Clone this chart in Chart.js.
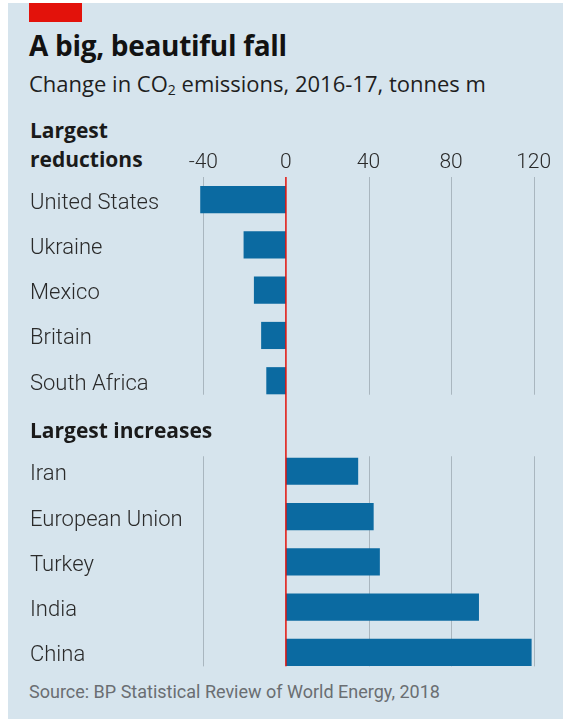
<!DOCTYPE html>
<html>
<head>
<meta charset="utf-8">
<script src="https://cdn.jsdelivr.net/npm/chart.js@4"></script>
<style>
  html, body { margin: 0; padding: 0; background: #fff; }
  body { width: 567px; height: 719px; position: relative; overflow: hidden; font-family: Roboto, sans-serif; }
  #panel { position: absolute; left: 8px; top: 3px; width: 555px; height: 716px; background: #d6e4ed; }
  #redtag { position: absolute; left: 29px; top: 3px; width: 53px; height: 19px; background: #e3120b; }
  .txt { position: absolute; left: 29px; white-space: nowrap; }
  #title { top: 26px; font-family: "Open Sans"; font-size: 28px; font-weight: 700; color: #121212; letter-spacing: -0.3px; }
  #subtitle { top: 68px; font-family: "Open Sans"; font-size: 22px; color: #1e1e1e; }
  #subtitle sub { font-size: 14px; vertical-align: -3px; }
  #head1 { left: 30px; top: 116px; font-family: "Open Sans"; font-size: 21px; font-weight: 700; color: #1a1a1a; line-height: 29px; }
  #source { top: 681px; font-size: 18px; color: #6a6e72; }
  #wrap { position: absolute; left: 0; top: 0; width: 567px; height: 719px; }
</style>
</head>
<body>
<div id="panel"></div>
<div id="redtag"></div>
<div class="txt" id="title">A big, beautiful fall</div>
<div class="txt" id="subtitle">Change in CO<sub>2</sub> emissions, 2016-17, tonnes m</div>
<div class="txt" id="head1">Largest<br>reductions</div>
<div class="txt" id="source">Source: BP Statistical Review of World Energy, 2018</div>
<div id="wrap"><canvas id="chart" width="567" height="719"></canvas></div>
<script>
// ── data ────────────────────────────────────────────────
const categories = ["United States", "Ukraine", "Mexico", "Britain", "South Africa",
                    "Largest increases",
                    "Iran", "European Union", "Turkey", "India", "China"];
const changes    = [-41.5, -20.5, -15.5, -12, -9.5, null, 35, 42.5, 45.5, 93.5, 119];
const xTicks     = [-40, 0, 40, 80, 120];
const headerRow  = 5;   // index of the "Largest increases" row

const BAR_BLUE  = "#0b6aa1";
const GRID_CLR  = "#a9b6bf";
const ZERO_RED  = "#e3120b";

// gridlines broken around the header row, red zero line, row labels
const gridPlugin = {
  id: "splitGrid",
  beforeDatasetsDraw(chart) {
    const { ctx, scales: { x, y }, chartArea } = chart;
    const half = 14;
    const seg = [
      [chartArea.top, y.getPixelForValue(headerRow - 1) + half],
      [y.getPixelForValue(headerRow + 1) - half - 1, y.getPixelForValue(categories.length - 1) + half],
    ];
    ctx.save();
    ctx.strokeStyle = GRID_CLR;
    ctx.lineWidth = 1;
    xTicks.filter((v) => v !== 0).forEach((v) => {
      const px = Math.round(x.getPixelForValue(v)) + 0.5;
      seg.forEach(([a, b]) => {
        ctx.beginPath(); ctx.moveTo(px, a); ctx.lineTo(px, b); ctx.stroke();
      });
    });
    ctx.restore();
  },
  afterDatasetsDraw(chart) {
    const { ctx, scales: { x, y }, chartArea } = chart;
    const px = x.getPixelForValue(0);
    ctx.save();
    ctx.strokeStyle = ZERO_RED;
    ctx.lineWidth = 1.5;
    ctx.beginPath();
    ctx.moveTo(px, chartArea.top);
    ctx.lineTo(px, y.getPixelForValue(categories.length - 1) + 14);
    ctx.stroke();

    // row labels, left aligned
    ctx.textAlign = "left";
    ctx.textBaseline = "alphabetic";
    categories.forEach((lab, i) => {
      const py = y.getPixelForValue(i);
      if (i === headerRow) {
        ctx.font = "700 21px 'Open Sans'";
        ctx.fillStyle = "#1a1a1a";
        ctx.fillText(lab, 30, py + 12);
      } else {
        ctx.font = "300 22px Roboto";
        ctx.fillStyle = "#2a2a2a";
        ctx.fillText(lab, 30, py + 9);
      }
    });
    ctx.restore();
  },
};

new Chart(document.getElementById("chart").getContext("2d"), {
  type: "bar",
  data: {
    labels: categories,
    datasets: [{
      data: changes,
      backgroundColor: BAR_BLUE,
      borderWidth: 0,
      barPercentage: 0.6,
      categoryPercentage: 1,
    }],
  },
  options: {
    indexAxis: "y",
    responsive: false,
    animation: false,
    layout: { padding: { left: 30, right: 23, top: 140, bottom: 44 } },
    plugins: { legend: { display: false }, tooltip: { enabled: false } },
    scales: {
      x: {
        position: "top",
        min: -45,
        max: 125,
        grid:   { display: false, drawTicks: false },
        border: { display: false },
        afterBuildTicks: (s) => { s.ticks = xTicks.map((v) => ({ value: v })); },
        afterFit: (s) => { s.height = 37; },
        ticks: { color: "#2a2a2a", font: { family: "Roboto", size: 21, weight: "300" }, padding: 2 },
      },
      y: {
        grid:   { display: false },
        border: { display: false },
        afterFit: (s) => { s.width = 163; },
        ticks: { display: false },
      },
    },
  },
  plugins: [gridPlugin],
});
</script>
</body>
</html>
